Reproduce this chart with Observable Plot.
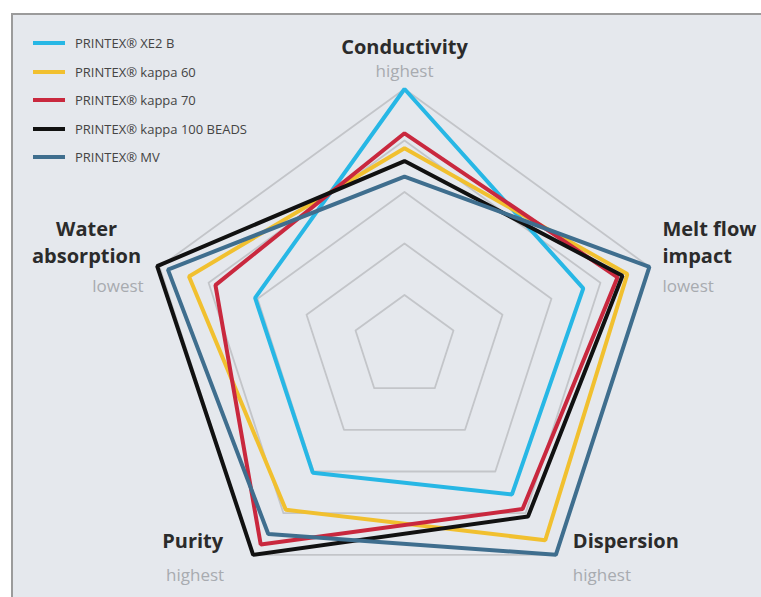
<!DOCTYPE html>
<html><head><meta charset="utf-8">
<script src="https://cdn.jsdelivr.net/npm/d3@7"></script>
<script src="https://cdn.jsdelivr.net/npm/@observablehq/plot@0.6"></script>
<style>
body{margin:0;background:#fff;}
#wrap{position:relative;width:761px;height:597px;overflow:hidden;background:#fff;}
#panel{position:absolute;left:11px;top:13px;right:0;bottom:0;background:#e5e8ed;border-top:2px solid #9b9b9b;border-left:2px solid #9b9b9b;}
#chart{position:absolute;left:0;top:0;}
#legend{position:absolute;left:33px;top:29px;font-family:"Open Sans",sans-serif;font-size:13px;color:#444;}
.item{display:flex;align-items:center;height:28.5px;white-space:nowrap;}
.sw{width:32px;height:4px;margin-right:10px;}
</style></head>
<body><div id="wrap"><div id="panel"></div><div id="chart"></div><div id="legend"></div></div>
<script>
// ---- data ----
const axes = ["Conductivity", "Melt flow impact", "Dispersion", "Purity", "Water absorption"];
const axisNotes = ["highest", "lowest", "highest", "highest", "lowest"];
const series = ["PRINTEX® XE2 B", "PRINTEX® kappa 60", "PRINTEX® kappa 70", "PRINTEX® kappa 100 BEADS", "PRINTEX® MV"];
const colors = ["#27b7e5", "#f1c02f", "#c9283e", "#111111", "#3f6e8e"];
// values in axis order: Conductivity, Melt flow impact, Dispersion, Purity, Water absorption
const xe2b     = [5.00, 3.65, 3.55, 3.03, 3.05];
const kappa60  = [3.85, 4.55, 4.65, 3.92, 4.40];
const kappa70  = [4.14, 4.35, 3.90, 4.75, 3.86];
const kappa100 = [3.60, 4.45, 4.08, 5.00, 5.05];
const mv       = [3.30, 5.00, 5.00, 4.50, 4.83];
const levels = [1, 2, 3, 4, 5];

// ---- layout ----
const W = 761, H = 597, CX = 404, CY = 346, U = 51.5;
const ang = i => i * 2 * Math.PI / axes.length;
const px = (r, i) => r * Math.sin(ang(i));
const py = (r, i) => r * Math.cos(ang(i));
const valuesBySeries = [xe2b, kappa60, kappa70, kappa100, mv];

const rows = series.flatMap((s, k) => axes.map((a, i) => {
  const v = valuesBySeries[k][i];
  return {series: s, axis: a, value: v, x: px(v, i), y: py(v, i)};
}));
const rings = levels.flatMap(l => axes.map((a, i) => ({level: l, x: px(l, i), y: py(l, i)})));

// label placement (pixel offsets from outer vertex; y = baseline of last line)
const labelLayout = [
  {title: [0, -35.5], anchor: "middle", wrap: false, note: [0, -12.5], noteAnchor: "middle"},
  {title: [13, -4], anchor: "start", wrap: true, note: [13, 25], noteAnchor: "start"},
  {title: [17, -7], anchor: "start", wrap: false, note: [17, 26], noteAnchor: "start"},
  {title: [-30, -7], anchor: "end", wrap: false, note: [-29, 26], noteAnchor: "end"},
  {title: [-73, -3.5], anchor: "middle", wrap: true, note: [-16, 25], noteAnchor: "end"}
];
const maxL = d3.max(levels);
const labelMarks = [];
axes.forEach((a, i) => {
  const L = labelLayout[i];
  const t = L.wrap ? a.slice(0, a.lastIndexOf(" ")) + "\n" + a.slice(a.lastIndexOf(" ") + 1) : a;
  const vx = px(maxL, i), vy = py(maxL, i);
  labelMarks.push(Plot.text([t], {
    x: () => vx + L.title[0] / U, y: () => vy - L.title[1] / U, text: d => d,
    textAnchor: L.anchor, lineAnchor: "bottom", lineHeight: 1.37, fontSize: 20, fontWeight: "bold",
    fill: "#2b2b2b", fontFamily: "Open Sans"
  }));
  labelMarks.push(Plot.text([axisNotes[i]], {
    x: () => vx + L.note[0] / U, y: () => vy - L.note[1] / U, text: d => d,
    textAnchor: L.noteAnchor, lineAnchor: "bottom", fontSize: 17,
    fill: "#a8abb0", fontFamily: "Open Sans"
  }));
});

const chart = Plot.plot({
  width: W, height: H, margin: 0,
  x: {domain: [-CX / U, (W - CX) / U], axis: null},
  y: {domain: [-(H - CY) / U, CY / U], axis: null},
  color: {domain: series, range: colors},
  style: {background: "transparent", overflow: "visible"},
  marks: [
    Plot.line(rings, {x: "x", y: "y", z: "level", curve: "linear-closed", stroke: "#c3c5c9", strokeWidth: 1.8}),
    Plot.line(rows, {x: "x", y: "y", z: "series", stroke: "series", curve: "linear-closed",
      strokeWidth: 4, strokeLinejoin: "miter"}),
    ...labelMarks
  ]
});
document.getElementById("chart").appendChild(chart);

// legend
const leg = d3.select("#legend");
series.forEach((s, k) => {
  const it = leg.append("div").attr("class", "item");
  it.append("div").attr("class", "sw").style("background", colors[k]);
  it.append("span").text(s);
});
</script></body></html>
